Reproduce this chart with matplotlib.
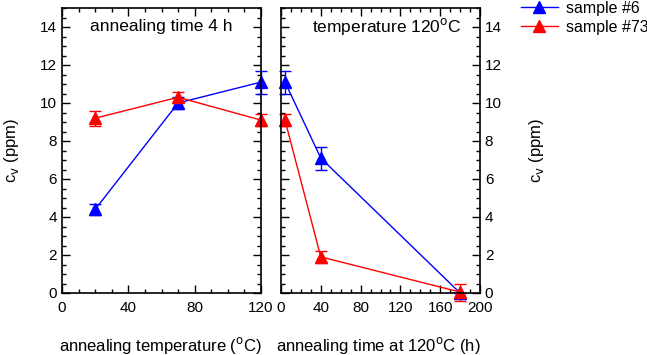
import numpy as np
import matplotlib.pyplot as plt
from matplotlib.ticker import MultipleLocator

plt.rcParams['font.family'] = ['Liberation Sans', 'DejaVu Sans']
plt.rcParams['font.size'] = 11

# annealing temperature series (4 h)
temp = [20, 70, 120]
s6_temp = [4.4, 10.0, 11.1]
s6_temp_err = [0.3, 0.3, 0.6]
s73_temp = [9.2, 10.3, 9.1]
s73_temp_err = [0.4, 0.3, 0.3]

# annealing time series (120 C)
time = [4, 40, 180]
s6_time = [11.1, 7.1, 0.0]
s6_time_err = [0.6, 0.6, 0.0]
s73_time = [9.1, 1.9, 0.05]
s73_time_err = [0.3, 0.3, 0.45]

blue = '#0000ff'
red = '#ff0000'

fig = plt.figure(figsize=(6.47, 3.55), dpi=100)
ax1 = fig.add_axes([62/647, 62/355, 199/647, 285/355])
ax2 = fig.add_axes([281/647, 62/355, 199/647, 285/355])

def style(ax, xmax, right=False):
    ax.set_xlim(0, xmax)
    ax.set_ylim(0, 15)
    ax.xaxis.set_major_locator(MultipleLocator(40))
    ax.xaxis.set_minor_locator(MultipleLocator(10))
    ax.yaxis.set_major_locator(MultipleLocator(2))
    ax.yaxis.set_minor_locator(MultipleLocator(0.5))
    ax.tick_params(which='both', direction='in', top=True, right=True, left=True)
    ax.tick_params(which='major', length=6, width=1)
    ax.tick_params(which='minor', length=3, width=1)
    ax.tick_params(axis='x', pad=6)
    if right:
        ax.tick_params(axis='y', labelleft=False, labelright=True)
    for sp in ax.spines.values():
        sp.set_linewidth(1.2)

style(ax1, 120)
style(ax2, 200, right=True)

kw = dict(marker='^', markersize=8, lw=1, capsize=4, elinewidth=1, capthick=1)
l6 = ax1.errorbar(temp, s6_temp, yerr=s6_temp_err, color=blue, **kw)
l73 = ax1.errorbar(temp, s73_temp, yerr=s73_temp_err, color=red, **kw)
r6 = ax2.errorbar(time, s6_time, yerr=s6_time_err, color=blue, **kw)
r73 = ax2.errorbar(time, s73_time, yerr=s73_time_err, color=red, **kw)
for c in (l6, l73, r6, r73):
    for art in c.get_children():
        art.set_clip_on(False)

ax1.text(0.5, 0.935, 'annealing time 4 h', transform=ax1.transAxes,
         ha='center', va='center', fontsize=12.5)
ax2.text(0.53, 0.935, 'temperature 120$^{\\rm o}$C', transform=ax2.transAxes,
         ha='center', va='center', fontsize=12.5)

ax1.set_ylabel('c$_{\\rm v}$ (ppm)', fontsize=12, labelpad=14)
ax2.set_ylabel('c$_{\\rm v}$ (ppm)', fontsize=12, labelpad=18)
ax2.yaxis.set_label_position('right')

fig.text(160/647, 1 - 345/355, 'annealing temperature ($^{\\rm o}$C)',
         ha='center', va='center', fontsize=12)
fig.text(378/647, 1 - 345/355, 'annealing time at 120$^{\\rm o}$C (h)',
         ha='center', va='center', fontsize=12)

h6 = plt.Line2D([], [], color=blue, marker='^', markersize=8, lw=1)
h73 = plt.Line2D([], [], color=red, marker='^', markersize=8, lw=1)
fig.legend([h6, h73], ['sample #6', 'sample #73'], loc='upper left',
           bbox_to_anchor=(521/647, 0.997), frameon=False, fontsize=11.5,
           borderpad=0, borderaxespad=0, handlelength=2.3,
           handletextpad=0.5, labelspacing=0.25)

fig.savefig('out.png', dpi=100)
